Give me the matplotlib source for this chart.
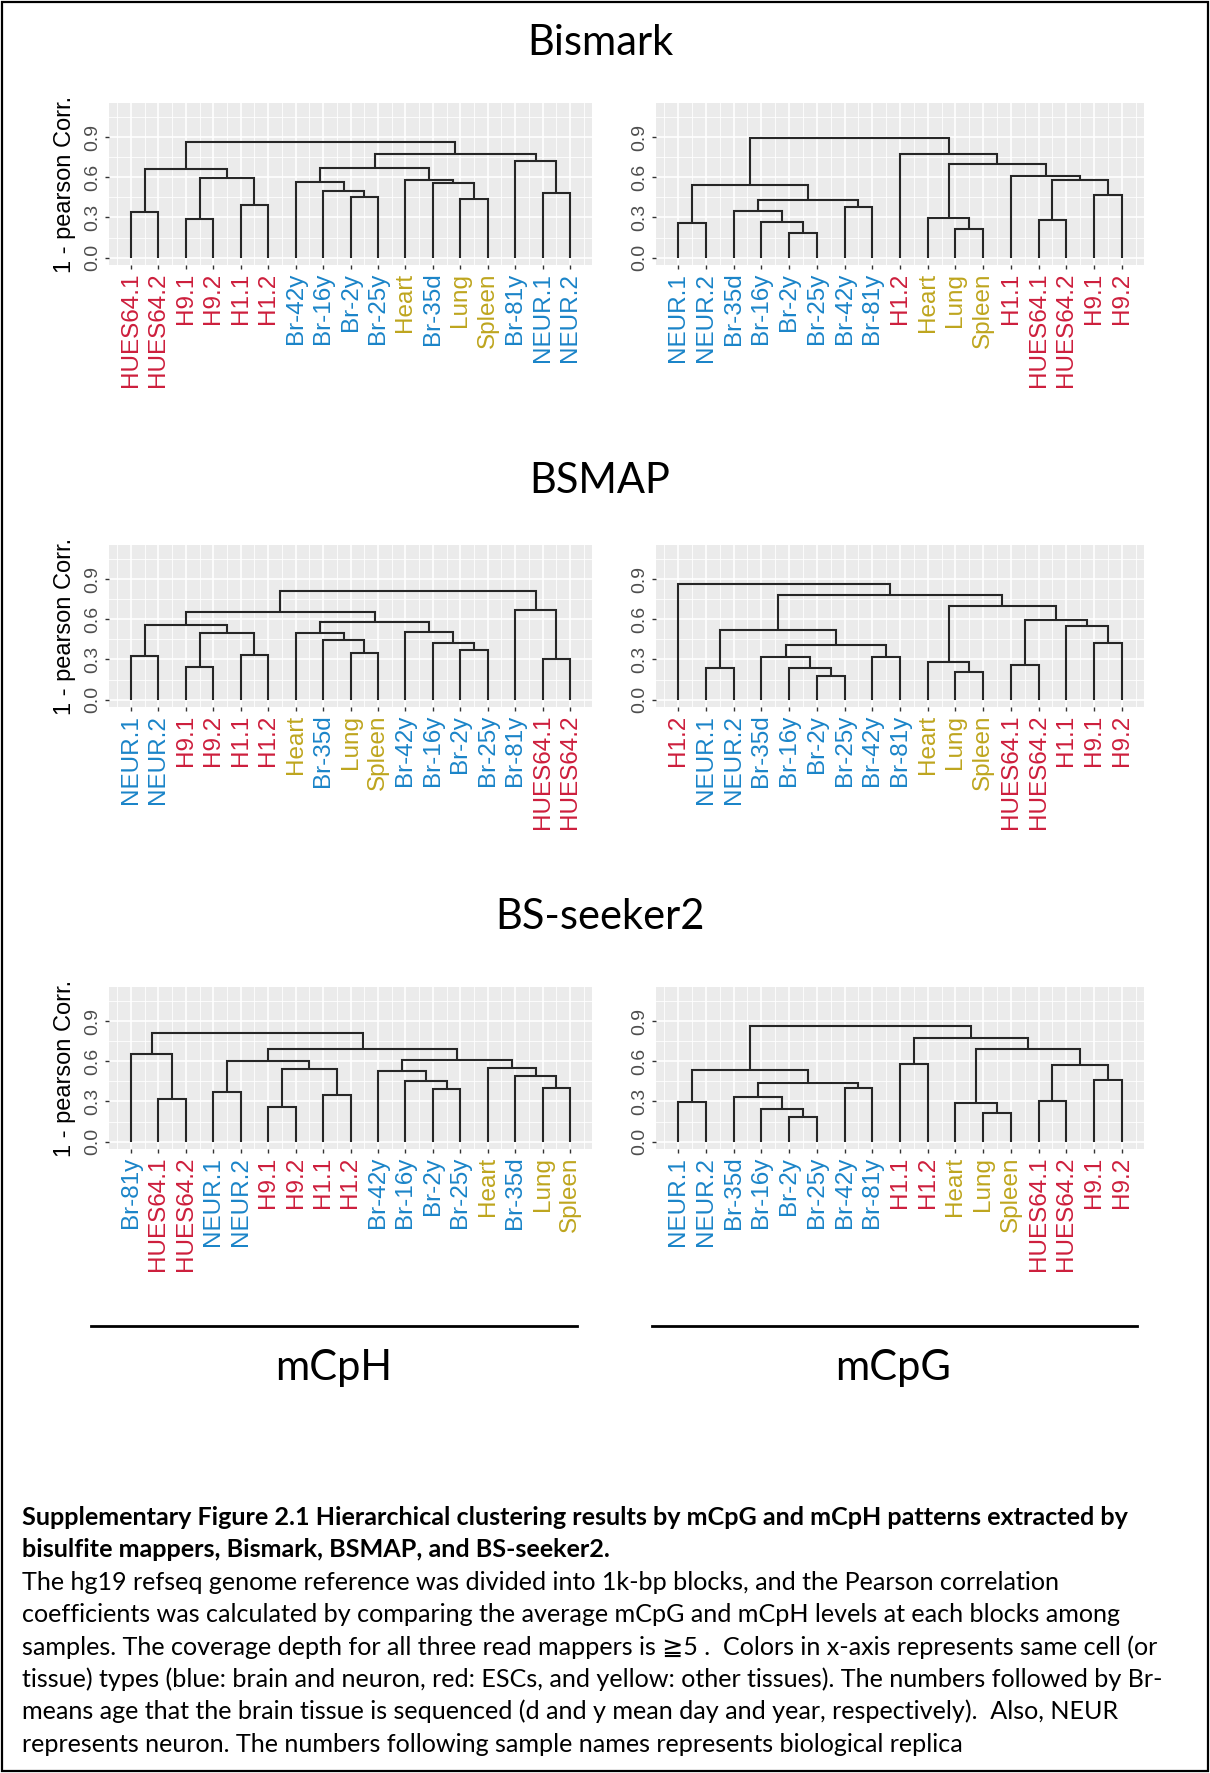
import matplotlib
matplotlib.use("Agg")
import matplotlib.pyplot as plt
from matplotlib.lines import Line2D
from matplotlib.patches import Rectangle

# ---------------- data ----------------
MAPPERS = ["Bismark", "BSMAP", "BS-seeker2"]
CONTEXTS = ["mCpH", "mCpG"]

ESC = ["HUES64.1", "HUES64.2", "H9.1", "H9.2", "H1.1", "H1.2"]
BRAIN = ["Br-35d", "Br-2y", "Br-16y", "Br-25y", "Br-42y", "Br-81y", "NEUR.1", "NEUR.2"]
OTHER = ["Heart", "Lung", "Spleen"]
TYPE_COLORS = {"ESC": "#CD1E3C", "BRAIN": "#1A84C8", "OTHER": "#BEA51E"}

# leaf orders (left to right) and merges: (child_a, child_b, height);
# string = leaf, int = index of an earlier merge
BISMARK_CPH_LEAVES = ["HUES64.1", "HUES64.2", "H9.1", "H9.2", "H1.1", "H1.2",
                      "Br-42y", "Br-16y", "Br-2y", "Br-25y", "Heart", "Br-35d",
                      "Lung", "Spleen", "Br-81y", "NEUR.1", "NEUR.2"]
BISMARK_CPH_MERGES = [("HUES64.1", "HUES64.2", 0.34), ("H9.1", "H9.2", 0.29),
                      ("H1.1", "H1.2", 0.39), (1, 2, 0.595), (0, 3, 0.665),
                      ("Br-2y", "Br-25y", 0.45), ("Br-16y", 5, 0.50), ("Br-42y", 6, 0.567),
                      ("Lung", "Spleen", 0.44), ("Br-35d", 8, 0.557), ("Heart", 9, 0.58),
                      (7, 10, 0.667), ("NEUR.1", "NEUR.2", 0.48), ("Br-81y", 12, 0.72),
                      (11, 13, 0.777), (4, 14, 0.863)]

BISMARK_CPG_LEAVES = ["NEUR.1", "NEUR.2", "Br-35d", "Br-16y", "Br-2y", "Br-25y",
                      "Br-42y", "Br-81y", "H1.2", "Heart", "Lung", "Spleen", "H1.1",
                      "HUES64.1", "HUES64.2", "H9.1", "H9.2"]
BISMARK_CPG_MERGES = [("NEUR.1", "NEUR.2", 0.26), ("Br-2y", "Br-25y", 0.183),
                      ("Br-16y", 1, 0.265), ("Br-35d", 2, 0.35), ("Br-42y", "Br-81y", 0.38),
                      (3, 4, 0.43), (0, 5, 0.54), ("Lung", "Spleen", 0.212),
                      ("Heart", 7, 0.295), ("HUES64.1", "HUES64.2", 0.278),
                      ("H9.1", "H9.2", 0.468), (9, 10, 0.58), ("H1.1", 11, 0.612),
                      (8, 12, 0.70), ("H1.2", 13, 0.775), (6, 14, 0.893)]

BSMAP_CPH_LEAVES = ["NEUR.1", "NEUR.2", "H9.1", "H9.2", "H1.1", "H1.2", "Heart",
                    "Br-35d", "Lung", "Spleen", "Br-42y", "Br-16y", "Br-2y", "Br-25y",
                    "Br-81y", "HUES64.1", "HUES64.2"]
BSMAP_CPH_MERGES = [("NEUR.1", "NEUR.2", 0.325), ("H9.1", "H9.2", 0.245),
                    ("H1.1", "H1.2", 0.332), (1, 2, 0.497), (0, 3, 0.557),
                    ("Lung", "Spleen", 0.35), ("Br-35d", 5, 0.442), ("Heart", 6, 0.50),
                    ("Br-2y", "Br-25y", 0.37), ("Br-16y", 8, 0.422), ("Br-42y", 9, 0.502),
                    (7, 10, 0.582), (4, 11, 0.657), ("HUES64.1", "HUES64.2", 0.30),
                    ("Br-81y", 13, 0.667), (12, 14, 0.815)]

BSMAP_CPG_LEAVES = ["H1.2", "NEUR.1", "NEUR.2", "Br-35d", "Br-16y", "Br-2y", "Br-25y",
                    "Br-42y", "Br-81y", "Heart", "Lung", "Spleen", "HUES64.1",
                    "HUES64.2", "H1.1", "H9.1", "H9.2"]
BSMAP_CPG_MERGES = [("NEUR.1", "NEUR.2", 0.24), ("Br-2y", "Br-25y", 0.18),
                    ("Br-16y", 1, 0.24), ("Br-35d", 2, 0.317), ("Br-42y", "Br-81y", 0.322),
                    (3, 4, 0.405), (0, 5, 0.517), ("Lung", "Spleen", 0.205),
                    ("Heart", 7, 0.282), ("HUES64.1", "HUES64.2", 0.26),
                    ("H9.1", "H9.2", 0.425), ("H1.1", 10, 0.55), (9, 11, 0.597),
                    (8, 12, 0.70), (6, 13, 0.78), ("H1.2", 14, 0.862)]

BSSEEKER_CPH_LEAVES = ["Br-81y", "HUES64.1", "HUES64.2", "NEUR.1", "NEUR.2", "H9.1",
                       "H9.2", "H1.1", "H1.2", "Br-42y", "Br-16y", "Br-2y", "Br-25y",
                       "Heart", "Br-35d", "Lung", "Spleen"]
BSSEEKER_CPH_MERGES = [("HUES64.1", "HUES64.2", 0.322), ("Br-81y", 0, 0.655),
                       ("NEUR.1", "NEUR.2", 0.37), ("H9.1", "H9.2", 0.255),
                       ("H1.1", "H1.2", 0.352), (3, 4, 0.545), (2, 5, 0.60),
                       ("Br-2y", "Br-25y", 0.39), ("Br-16y", 7, 0.452), ("Br-42y", 8, 0.525),
                       ("Lung", "Spleen", 0.40), ("Br-35d", 10, 0.487), ("Heart", 11, 0.547),
                       (9, 12, 0.612), (6, 13, 0.695), (1, 14, 0.815)]

BSSEEKER_CPG_LEAVES = ["NEUR.1", "NEUR.2", "Br-35d", "Br-16y", "Br-2y", "Br-25y",
                       "Br-42y", "Br-81y", "H1.1", "H1.2", "Heart", "Lung", "Spleen",
                       "HUES64.1", "HUES64.2", "H9.1", "H9.2"]
BSSEEKER_CPG_MERGES = [("NEUR.1", "NEUR.2", 0.295), ("Br-2y", "Br-25y", 0.182),
                       ("Br-16y", 1, 0.245), ("Br-35d", 2, 0.335), ("Br-42y", "Br-81y", 0.402),
                       (3, 4, 0.437), (0, 5, 0.537), ("H1.1", "H1.2", 0.58),
                       ("Lung", "Spleen", 0.217), ("Heart", 8, 0.287),
                       ("HUES64.1", "HUES64.2", 0.307), ("H9.1", "H9.2", 0.457),
                       (10, 11, 0.575), (9, 12, 0.692), (7, 13, 0.775), (6, 14, 0.862)]

Y_TICKS = [0.0, 0.3, 0.6, 0.9]
Y_TICK_LABELS = ["0.0", "0.3", "0.6", "0.9"]
Y_LABEL = "1 - pearson Corr."

CAPTION_BOLD = ["Supplementary Figure 2.1 Hierarchical clustering results by mCpG and mCpH patterns extracted by",
                "bisulfite mappers, Bismark, BSMAP, and BS-seeker2."]
CAPTION_BODY = ["The hg19 refseq genome reference was divided into 1k-bp blocks, and the Pearson correlation",
                "coefficients was calculated by comparing the average mCpG and mCpH levels at each blocks among",
                "samples. The coverage depth for all three read mappers is \u22675 .  Colors in x-axis represents same cell (or",
                "tissue) types (blue: brain and neuron, red: ESCs, and yellow: other tissues). The numbers followed by Br-",
                "means age that the brain tissue is sequenced (d and y mean day and year, respectively).  Also, NEUR",
                "represents neuron. The numbers following sample names represents biological replica"]

PANELS = {
    (0, 0): (BISMARK_CPH_LEAVES, BISMARK_CPH_MERGES),
    (0, 1): (BISMARK_CPG_LEAVES, BISMARK_CPG_MERGES),
    (1, 0): (BSMAP_CPH_LEAVES, BSMAP_CPH_MERGES),
    (1, 1): (BSMAP_CPG_LEAVES, BSMAP_CPG_MERGES),
    (2, 0): (BSSEEKER_CPH_LEAVES, BSSEEKER_CPH_MERGES),
    (2, 1): (BSSEEKER_CPG_LEAVES, BSSEEKER_CPG_MERGES),
}

# ---------------- layout (pixels) ----------------
W, H = 1210, 1773
ROW_TOPS = [103, 545, 987]
PANEL_H = 162
COL_X = [(109, 592), (656, 1144)]
TITLE_BASE = [55, 493, 929]
PLOT_FONT = "Liberation Sans"
TEXT_FONT = ["Lato", "DejaVu Sans", "Noto Sans CJK JP"]


def fx(px):
    return px / W


def fy(py):
    return 1 - py / H


def leaf_color(name):
    if name in ESC:
        return TYPE_COLORS["ESC"]
    if name in BRAIN:
        return TYPE_COLORS["BRAIN"]
    return TYPE_COLORS["OTHER"]


def draw_dendro(ax, leaves, merges):
    pos = {name: i + 1 for i, name in enumerate(leaves)}
    nx, nh = [], []

    def get(n):
        if isinstance(n, int):
            return nx[n], nh[n]
        return pos[n], 0.0

    for a, b, h in merges:
        xa, ha = get(a)
        xb, hb = get(b)
        ax.plot([xa, xa, xb, xb], [ha, h, h, hb], color="#262626", lw=1.5,
                solid_joinstyle="miter", solid_capstyle="butt", zorder=3)
        nx.append((xa + xb) / 2.0)
        nh.append(h)


fig = plt.figure(figsize=(W / 100, H / 100), dpi=100)

for (r, c), (leaves, merges) in PANELS.items():
    x0, x1 = COL_X[c]
    top = ROW_TOPS[r]
    ax = fig.add_axes([fx(x0), fy(top + PANEL_H), (x1 - x0) / W, PANEL_H / H])
    ax.set_facecolor("#EBEBEB")
    n = len(leaves)
    draw_dendro(ax, leaves, merges)
    ax.set_xlim(0.2, n + 0.8)
    ax.set_ylim(-0.055, 1.155)
    ax.set_xticks(range(1, n + 1))
    ax.set_xticks([i + 0.5 for i in range(0, n + 1)], minor=True)
    ax.set_xticklabels(leaves, rotation=90, fontsize=17.5, family=PLOT_FONT)
    for lab, name in zip(ax.get_xticklabels(), leaves):
        lab.set_color(leaf_color(name))
    ax.set_yticks(Y_TICKS)
    ax.set_yticks([0.15, 0.45, 0.75, 1.05], minor=True)
    ax.set_yticklabels(Y_TICK_LABELS, rotation=90, va="center", ha="right",
                       fontsize=14, family=PLOT_FONT, color="#4D4D4D")
    ax.grid(which="major", color="white", lw=1.2)
    ax.grid(which="minor", color="white", lw=0.6)
    ax.set_axisbelow(True)
    ax.tick_params(which="minor", length=0)
    ax.tick_params(which="major", length=3, width=1.0, color="#333333", pad=2.5)
    for s in ax.spines.values():
        s.set_visible(False)
    if c == 0:
        fig.text(fx(65), fy(top + PANEL_H / 2), Y_LABEL, rotation=90, ha="center",
                 va="center", fontsize=17, family=PLOT_FONT, color="black")

# mapper titles
for r, name in enumerate(MAPPERS):
    fig.text(fx(600), fy(TITLE_BASE[r]), name, ha="center", va="baseline",
             fontsize=30, family=TEXT_FONT)

# context labels with rules
for (xa, xb), xc, name in zip([(91, 577), (652, 1137)], [334, 893], CONTEXTS):
    fig.add_artist(Line2D([fx(xa), fx(xb)], [fy(1326), fy(1326)], color="black",
                          lw=2.0, transform=fig.transFigure))
    fig.text(fx(xc), fy(1380), name, ha="center", va="baseline", fontsize=30,
             family=TEXT_FONT)

# caption: fit font size so that the first body line spans its width
probe = fig.text(fx(22), fy(1590), CAPTION_BODY[0], fontsize=16, family=TEXT_FONT)
fig.canvas.draw()
w = probe.get_window_extent(fig.canvas.get_renderer()).width
cap_fs = 16 * 1043.0 / w
probe.remove()

lines = [(t, "bold") for t in CAPTION_BOLD] + [(t, "normal") for t in CAPTION_BODY]
for i, (t, wgt) in enumerate(lines):
    fig.text(fx(22), fy(1525 + 32.4 * i), t, ha="left", va="baseline",
             fontsize=cap_fs, fontweight=wgt, family=TEXT_FONT)

# outer border
fig.add_artist(Rectangle((fx(2), fy(1771)), 1206 / W, 1769 / H, fill=False,
                         edgecolor="black", lw=1.6, transform=fig.transFigure))

fig.savefig("out.png", dpi=100)
